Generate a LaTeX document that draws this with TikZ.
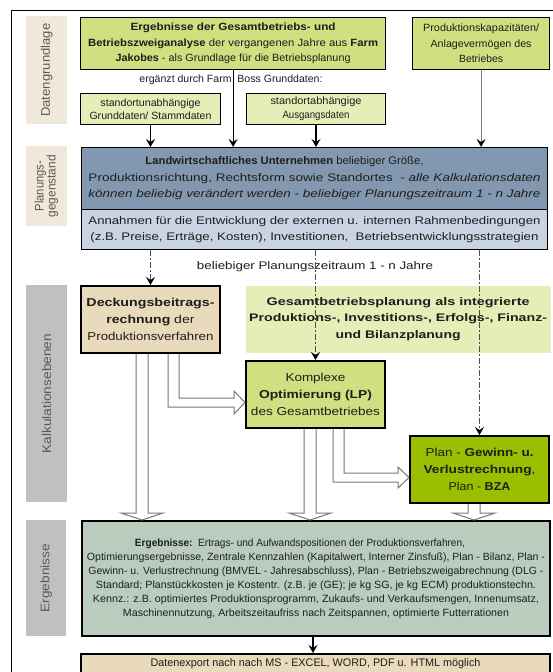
\documentclass[tikz,border=0pt]{standalone}
\usepackage{fontspec}
\setmainfont{Liberation Sans}
\usetikzlibrary{arrows.meta,calc}
\definecolor{topgreen}{RGB}{206,224,128}
\definecolor{lightgreen}{RGB}{228,238,182}
\definecolor{sidetan}{RGB}{240,232,218}
\definecolor{sidegray}{RGB}{192,192,192}
\definecolor{darkblue}{RGB}{130,152,176}
\definecolor{lightblue}{RGB}{200,212,226}
\definecolor{tanbox}{RGB}{234,218,188}
\definecolor{plangreen}{RGB}{155,190,0}
\definecolor{ergfill}{RGB}{186,204,190}
\definecolor{blkgray}{RGB}{120,120,120}
\definecolor{txt}{RGB}{30,30,30}
\newcommand\lw[2]{\resizebox{#1pt}{\height}{#2}}
\tikzset{
  box/.style={draw=black, line width=1.2pt, inner sep=0pt, align=center, anchor=north west, text=txt},
  tbox/.style={box, line width=2pt},
  side/.style={inner sep=0pt, anchor=north west, text=black!65, font=\fontsize{12.5}{14}\selectfont},
  arr/.style={line width=1.1pt, -{Stealth[length=8pt,width=9pt,inset=3pt]}},
  garr/.style={arr, draw=black!50, -{Stealth[length=8pt,width=9pt,inset=3pt,color=black]}},
  dasharr/.style={line width=1pt, draw=black!70, dash pattern=on 6pt off 2pt on 2pt off 2pt, -{Stealth[length=8pt,width=9pt,inset=3pt,color=black]}},
  blk/.style={draw=blkgray, fill=white, line width=1pt},
  fA/.style={font=\fontsize{10.5}{15.5}\selectfont},
  fS/.style={font=\fontsize{10.5}{13.5}\selectfont},
  fL/.style={font=\fontsize{11}{16.5}\selectfont},
  fM/.style={font=\fontsize{11.5}{17}\selectfont},
  fE/.style={font=\fontsize{10.5}{14}\selectfont},
}
\begin{document}
\begin{tikzpicture}[x=1pt,y=-1pt]
\useasboundingbox (0,0) rectangle (553,672);
\fill[white] (0,0) rectangle (553,672);
\draw[line width=1pt] (11,672) -- (11,10) -- (553,10);

% side labels
\node[side, fill=sidetan, minimum width=41, minimum height=108] (s1) at (26,16) {\rotatebox{90}{\lw{93}{Datengrundlage}}};
\node[side, fill=sidetan, minimum width=41, minimum height=80] (s2) at (26,146) {\rotatebox{90}{\begin{tabular}{@{}c@{}}\lw{50}{Planungs-}\\[-2pt]\lw{62}{gegenstand}\end{tabular}}};
\node[side, fill=sidegray, minimum width=41, minimum height=217] (s3) at (26,285) {\rotatebox{90}{\lw{120}{Kalkulationsebenen}}};
\node[side, fill=sidegray, minimum width=40, minimum height=116] (s4) at (26,520) {\rotatebox{90}{\lw{68}{Ergebnisse}}};

% Datengrundlage
\node[box, fill=topgreen, minimum width=305, minimum height=52, fA] (A) at (80,17)
  {\lw{205}{\bfseries Ergebnisse der Gesamtbetriebs- und}\\
   \lw{290}{{\bfseries Betriebszweiganalyse} der vergangenen Jahre aus {\bfseries Farm}}\\
   \lw{235}{{\bfseries Jakobes} - als Grundlage für die Betriebsplanung}};
\node[box, fill=topgreen, minimum width=137, minimum height=52, fA] (B) at (412,17)
  {\lw{116}{Produktionskapazitäten/}\\\lw{101}{Anlagevermögen des}\\\lw{44}{Betriebes}};
\node[fA, text=txt, inner sep=0pt] (erg) at (231,80) {\lw{183}{ergänzt durch Farm\ \ Boss Grunddaten:}};
\node[box, fill=lightgreen, minimum width=140, minimum height=31, fS, line width=1pt] (C) at (80,93)
  {\lw{100}{standortunabhängige}\\\lw{122}{Grunddaten/ Stammdaten}};
\node[box, fill=lightgreen, minimum width=139, minimum height=31, fS, line width=1pt] (D) at (246,93)
  {\lw{91}{standortabhängige}\\\lw{67}{Ausgangsdaten}};

% Planungsgegenstand
\node[box, fill=darkblue, minimum width=466, minimum height=62, fL, line width=1pt] (L1) at (81,147)
  {\lw{278}{{\bfseries Landwirtschaftliches Unternehmen} beliebiger Größe,}\rule{60pt}{0pt}\\
   \lw{452}{Produktionsrichtung, Rechtsform sowie Standortes\ \ - \textit{alle Kalkulationsdaten}}\\
   \lw{452}{\itshape können beliebig verändert werden - beliebiger Planungszeitraum 1 - n Jahre}};
\node[box, fill=lightblue, minimum width=466, minimum height=40, fL, line width=1pt] (L2) at (81,209)
  {\lw{452}{Annahmen für die Entwicklung der externen u. internen Rahmenbedingungen}\\
   \lw{448}{(z.B. Preise, Erträge, Kosten), Investitionen,\ \ Betriebsentwicklungsstrategien}};

\draw[arr] (C.south) -- (C.south |- L1.north);
\draw[arr] (A.south) -- (A.south |- L1.north);
\draw[arr] (D.south) -- (D.south |- L1.north);
\draw[garr] (B.south) -- (B.south |- L1.north);

% Kalkulationsebenen
\node[fL, text=txt, inner sep=0pt] (pz) at (315,267) {\lw{236}{beliebiger Planungszeitraum 1 - n Jahre}};
\node[tbox, fill=tanbox, minimum width=139, minimum height=67, fM] (DB) at (80,285)
  {\lw{128}{\bfseries Deckungsbeitrags-}\\\lw{88}{{\bfseries rechnung} der}\\\lw{126}{Produktionsverfahren}};
\node[box, draw=none, fill=lightgreen, minimum width=305, minimum height=67, fL] (G) at (245,285)
  {\lw{263}{\bfseries Gesamtbetriebsplanung als integrierte}\\
   \lw{298}{\bfseries Produktions-, Investitions-, Erfolgs-, Finanz-}\\
   \lw{125}{\bfseries und Bilanzplanung}};
\node[tbox, fill=topgreen, minimum width=139, minimum height=67, fM] (K) at (245,360)
  {\lw{60}{Komplexe}\\\lw{113}{\bfseries Optimierung (LP)}\\\lw{129}{des Gesamtbetriebes}};
\node[tbox, fill=plangreen, minimum width=139, minimum height=67, fM] (P) at (409,435)
  {\lw{108}{Plan - {\bfseries Gewinn- u.}}\\\lw{112}{{\bfseries Verlustrechnung},}\\\lw{62}{Plan - {\bfseries BZA}}};

\draw[dasharr] (DB.north |- L2.south) -- (DB.north);
\draw[dasharr] (K.north |- L2.south) -- (K.north);
\draw[dasharr] (P.north |- L2.south) -- (P.north);

% Ergebnisse
\node[tbox, fill=ergfill, minimum width=468, minimum height=115, fE] (E) at (81,520)
  {\lw{330}{{\bfseries Ergebnisse:}\ \ Ertrags- und Aufwandspositionen der Produktionsverfahren,}\rule{32pt}{0pt}\\
   \lw{458}{Optimierungsergebnisse, Zentrale Kennzahlen (Kapitalwert, Interner Zinsfuß), Plan - Bilanz, Plan -}\\
   \lw{455}{Gewinn- u. Verlustrechnung (BMVEL - Jahresabschluss), Plan - Betriebszweigabrechnung (DLG -}\\
   \lw{440}{Standard; Planstückkosten je Kostentr. (z.B. je (GE); je kg SG, je kg ECM) produktionstechn.}\\
   \lw{446}{Kennz.: z.B. optimiertes Produktionsprogramm, Zukaufs- und Verkaufsmengen, Innenumsatz,}\\
   \lw{386}{Maschinennutzung, Arbeitszeitaufriss nach Zeitspannen, optimierte Futterrationen}};
\node[tbox, fill=tanbox, minimum width=469, minimum height=19, font=\fontsize{11}{13}\selectfont] (X) at (80,653)
  {\lw{330}{Datenexport nach nach MS - EXCEL, WORD, PDF u. HTML möglich}};
\draw[arr] (E.south -| 313,0) -- (X.north -| 313,0);

% hollow block arrows: vertical
\filldraw[blk] let \p1=(DB.south), \p2=(E.north) in
  (136,\y1) -- (136,\y2+7pt) -- (121,\y2+7pt) -- (142,\y2) -- (163,\y2+7pt) -- (148,\y2+7pt) -- (148,\y1);
\filldraw[blk] let \p1=(K.south), \p2=(E.north) in
  (304,\y1) -- (304,\y2+7pt) -- (289,\y2+7pt) -- (310,\y2) -- (331,\y2+7pt) -- (316,\y2+7pt) -- (316,\y1);
\filldraw[blk] let \p1=(P.south), \p2=(E.north) in
  (468,\y1) -- (468,\y2+7pt) -- (453,\y2+7pt) -- (474,\y2) -- (495,\y2+7pt) -- (480,\y2+7pt) -- (480,\y1);
% hollow block arrows: elbows
\filldraw[blk] let \p1=(DB.south), \p2=(K.west) in
  (168,\y1) -- (168,407) -- (\x2-11pt,407) -- (\x2-11pt,414) -- (\x2,402.5) -- (\x2-11pt,391) -- (\x2-11pt,398) -- (179,398) -- (179,\y1);
\filldraw[blk] let \p1=(K.south), \p2=(P.west) in
  (333,\y1) -- (333,482) -- (\x2-11pt,482) -- (\x2-11pt,488) -- (\x2,477.5) -- (\x2-11pt,467) -- (\x2-11pt,473) -- (344,473) -- (344,\y1);
\end{tikzpicture}
\end{document}
